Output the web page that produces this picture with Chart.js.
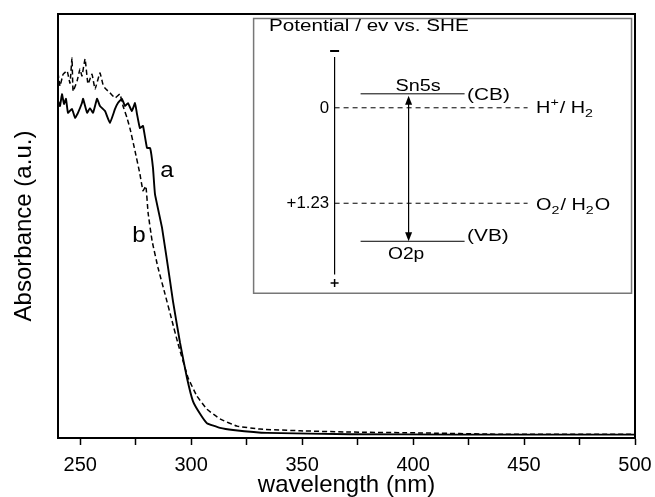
<!DOCTYPE html>
<html>
<head>
<meta charset="utf-8">
<script src="https://cdn.jsdelivr.net/npm/chart.js@4/dist/chart.umd.min.js"></script>
<style>
  html, body { margin: 0; padding: 0; background: #fff; }
  #wrap { width: 655px; height: 497px; }
</style>
</head>
<body>
<div id="wrap"><canvas id="absorbance-chart"></canvas></div>
<script>
// sample a (solid)
const wave_a = [240, 240.9, 241.8, 242.7, 243.6, 244.5, 246.3, 247.7, 249.0, 250.8, 251.3, 253.1, 254.4, 255.8, 257.6, 258.9, 261.2, 263.4, 265.7, 267.0, 268.8, 270.2, 271.5, 273.3, 274.7, 275.6, 276.9, 278.3, 280.1, 281.5, 282.8, 283.7, 286.9, 290.5, 291.8, 295.0, 298.1, 300.8, 304.0, 307.1, 313.0, 318.9, 334.2, 371.6, 420, 460, 500]
const abs_a = [0.795, 0.783, 0.811, 0.788, 0.800, 0.767, 0.776, 0.755, 0.767, 0.790, 0.800, 0.767, 0.778, 0.767, 0.800, 0.783, 0.771, 0.743, 0.776, 0.790, 0.800, 0.783, 0.790, 0.771, 0.790, 0.764, 0.731, 0.736, 0.684, 0.684, 0.637, 0.575, 0.495, 0.370, 0.323, 0.224, 0.142, 0.087, 0.057, 0.035, 0.024, 0.019, 0.012, 0.009, 0.008, 0.008, 0.008]

// sample b (dashed)
const wave_b = [240, 240.9, 242.3, 244.1, 245.4, 246.3, 246.8, 248.6, 249.9, 250.8, 252.2, 253.5, 255.3, 256.7, 258.9, 260.3, 261.2, 263.4, 265.7, 267.9, 269.3, 271.1, 272.4, 274.7, 276.9, 278.3, 279.6, 280.6, 282.4, 285.1, 288.2, 291.4, 294.1, 298.6, 302.6, 307.1, 313.0, 320.7, 331.0, 349.0, 371.6, 403.1, 438.9, 500]
const abs_b = [0.861, 0.830, 0.858, 0.866, 0.837, 0.896, 0.818, 0.842, 0.870, 0.854, 0.894, 0.835, 0.858, 0.823, 0.861, 0.833, 0.825, 0.814, 0.802, 0.811, 0.783, 0.755, 0.731, 0.677, 0.623, 0.583, 0.594, 0.531, 0.465, 0.401, 0.340, 0.276, 0.222, 0.142, 0.099, 0.068, 0.045, 0.028, 0.021, 0.017, 0.014, 0.012, 0.009, 0.009]

const x_ticks = [250, 275, 300, 325, 350, 375, 400, 425, 450, 475, 500]

// curve labels [text, wavelength, absorbance]
const curve_labels = [['a', 289.1, 0.630], ['b', 276.5, 0.476]]

// inset: potential (V vs. SHE)
const redox_levels = [0, 1.23]
const redox_names = ['0', '+1.23']
const band_levels = [-0.18, 1.72]
const band_names = ['Sn5s', 'O2p']
const band_tags = ['(CB)', '(VB)']

const FONT = "'Liberation Sans', Arial, sans-serif"
const INSET_FONT = '16px ' + FONT
const WIDE = 1.24

function to_points(xs, ys) {
  return xs.map((x, i) => ({ x: x, y: ys[i] }))
}

// text stretched horizontally by sx
function stext(ctx, str, x, y, sx, align) {
  ctx.save()
  ctx.translate(x, y)
  ctx.scale(sx, 1)
  ctx.textAlign = align
  ctx.fillText(str, 0, 0)
  ctx.restore()
}

const frame_plugin = {
  id: 'frame',
  afterDatasetsDraw(chart) {
    const ctx = chart.ctx
    const ca = chart.chartArea
    const x = chart.scales.x
    const y = chart.scales.y

    ctx.save()
    ctx.fillStyle = '#000'
    ctx.font = '22px ' + FONT
    ctx.textBaseline = 'middle'
    curve_labels.forEach(function(l) {
      stext(ctx, l[0], x.getPixelForValue(l[1]), y.getPixelForValue(l[2]), 1.1, 'center')
    })
    ctx.restore()

    draw_inset(ctx, ca)

    ctx.save()
    ctx.strokeStyle = '#000'
    ctx.lineWidth = 2
    ctx.strokeRect(ca.left, ca.top, ca.right - ca.left, ca.bottom - ca.top)
    ctx.restore()
  }
}

function draw_inset(ctx, ca) {
  const w = ca.right - ca.left
  const h = ca.bottom - ca.top
  const bx = ca.left + 0.339 * w
  const by = ca.top + 0.0106 * h
  const bw = 0.655 * w
  const bh = 0.648 * h
  // potential -> pixel
  const py = function(v) { return by + 89.3 + v * 77.6 }
  const ax = bx + 81

  ctx.save()
  ctx.fillStyle = '#fff'
  ctx.fillRect(bx, by, bw, bh)
  ctx.strokeStyle = '#777'
  ctx.lineWidth = 1.5
  ctx.strokeRect(bx, by, bw, bh)

  ctx.fillStyle = '#000'
  ctx.strokeStyle = '#000'
  ctx.font = INSET_FONT
  ctx.textBaseline = 'alphabetic'
  stext(ctx, 'Potential / ev vs. SHE', bx + 15.5, by + 13, 1.29, 'left')

  // potential axis
  ctx.lineWidth = 1.2
  ctx.beginPath()
  ctx.moveTo(ax, by + 38.5)
  ctx.lineTo(ax, by + 256)
  ctx.stroke()
  ctx.lineWidth = 2
  ctx.beginPath()
  ctx.moveTo(ax - 4.5, by + 32.5)
  ctx.lineTo(ax + 4.5, by + 32.5)
  ctx.stroke()
  ctx.lineWidth = 1.5
  ctx.beginPath()
  ctx.moveTo(ax - 4, by + 264.5)
  ctx.lineTo(ax + 4, by + 264.5)
  ctx.moveTo(ax, by + 260.5)
  ctx.lineTo(ax, by + 268.5)
  ctx.stroke()

  // redox levels
  ctx.lineWidth = 1
  ctx.setLineDash([5, 4])
  redox_levels.forEach(function(v) {
    ctx.beginPath()
    ctx.moveTo(ax, py(v))
    ctx.lineTo(bx + 274, py(v))
    ctx.stroke()
  })
  ctx.setLineDash([])
  ctx.textBaseline = 'middle'
  ctx.font = '16px ' + FONT
  redox_names.forEach(function(n, i) {
    stext(ctx, n, bx + 75.5, py(redox_levels[i]) + 0.5, 1.05, 'right')
  })
  ctx.font = INSET_FONT

  // H+/H2 and O2/H2O
  draw_pieces(ctx, bx + 282.5, py(redox_levels[0]) + 5.5, [['H', 0], ['+', -1], ['/ H', 0], ['2', 1]])
  draw_pieces(ctx, bx + 282.5, py(redox_levels[1]) + 7, [['O', 0], ['2', 1], ['/ H', 0], ['2', 1], ['O', 0]])

  // band levels
  ctx.lineWidth = 1
  band_levels.forEach(function(v, i) {
    ctx.beginPath()
    ctx.moveTo(bx + 107, py(v))
    ctx.lineTo(bx + 211, py(v))
    ctx.stroke()
    ctx.textBaseline = 'middle'
    stext(ctx, band_tags[i], bx + 213.5, py(v) + (i === 0 ? 2 : -5), 1.3, 'left')
  })
  ctx.textBaseline = 'alphabetic'
  stext(ctx, band_names[0], bx + 164.5, py(band_levels[0]) - 2.5, WIDE, 'center')
  stext(ctx, band_names[1], bx + 152.5, py(band_levels[1]) + 17.5, 1.2, 'center')

  // band gap arrow
  const arx = bx + 155
  const y1 = py(band_levels[0]) + 2
  const y2 = py(band_levels[1])
  ctx.lineWidth = 1.2
  ctx.beginPath()
  ctx.moveTo(arx, y1 + 6)
  ctx.lineTo(arx, y2 - 6)
  ctx.stroke()
  ctx.beginPath()
  ctx.moveTo(arx, y1)
  ctx.lineTo(arx - 3.5, y1 + 9)
  ctx.lineTo(arx + 3.5, y1 + 9)
  ctx.closePath()
  ctx.fill()
  ctx.beginPath()
  ctx.moveTo(arx, y2)
  ctx.lineTo(arx - 3.5, y2 - 9)
  ctx.lineTo(arx + 3.5, y2 - 9)
  ctx.closePath()
  ctx.fill()
  ctx.restore()
}

// text with sub/superscripts: [text, 0 normal | -1 sup | 1 sub]
function draw_pieces(ctx, x, base, pieces) {
  ctx.textBaseline = 'alphabetic'
  pieces.forEach(function(p) {
    if (p[1] === 0) {
      ctx.font = INSET_FONT
      stext(ctx, p[0], x, base, WIDE, 'left')
    } else {
      ctx.font = '11.5px ' + FONT
      stext(ctx, p[0], x, base + (p[1] < 0 ? -7.5 : 4), WIDE, 'left')
    }
    x += ctx.measureText(p[0]).width * WIDE + (p[1] === 0 ? 0 : 1)
  })
  ctx.font = INSET_FONT
}

const ctx = document.getElementById('absorbance-chart').getContext('2d')

new Chart(ctx, {
  type: 'line',
  data: {
    datasets: [
      {
        label: 'a',
        data: to_points(wave_a, abs_a),
        borderColor: '#000',
        borderWidth: 1.9,
        pointRadius: 0,
        tension: 0.1,
        fill: false
      },
      {
        label: 'b',
        data: to_points(wave_b, abs_b),
        borderColor: '#000',
        borderWidth: 1.5,
        borderDash: [5, 3],
        pointRadius: 0,
        tension: 0.1,
        fill: false
      }
    ]
  },
  options: {
    responsive: true,
    maintainAspectRatio: false,
    animation: false,
    layout: {
      padding: { top: 14, right: 20, left: 0, bottom: 0 }
    },
    plugins: {
      legend: { display: false },
      tooltip: { enabled: false }
    },
    scales: {
      x: {
        type: 'linear',
        min: 240,
        max: 500,
        afterBuildTicks(scale) {
          scale.ticks = x_ticks.map(v => ({ value: v }))
        },
        afterFit(scale) {
          scale.height = 59
          scale.paddingLeft = 0
          scale.paddingRight = 0
        },
        border: { color: '#000', width: 2 },
        grid: {
          drawOnChartArea: false,
          drawTicks: true,
          tickLength: 7,
          tickColor: '#000',
          tickWidth: 1.5
        },
        ticks: {
          autoSkip: false,
          maxRotation: 0,
          color: '#000',
          padding: 8,
          font: { family: FONT, size: 20 },
          callback: function(v) { return v % 50 === 0 ? v : '' }
        },
        title: {
          display: true,
          text: 'wavelength (nm)',
          color: '#000',
          padding: { top: 0, bottom: 0 },
          font: { family: FONT, size: 24, lineHeight: 1 }
        }
      },
      y: {
        min: 0,
        max: 1,
        afterFit(scale) { scale.width = 58 },
        border: { color: '#000', width: 2 },
        grid: { display: false },
        ticks: { display: false },
        title: {
          display: true,
          text: 'Absorbance (a.u.)',
          color: '#000',
          padding: { top: 12, bottom: 0 },
          font: { family: FONT, size: 24, lineHeight: 1 }
        }
      }
    }
  },
  plugins: [frame_plugin]
});
</script>
</body>
</html>
